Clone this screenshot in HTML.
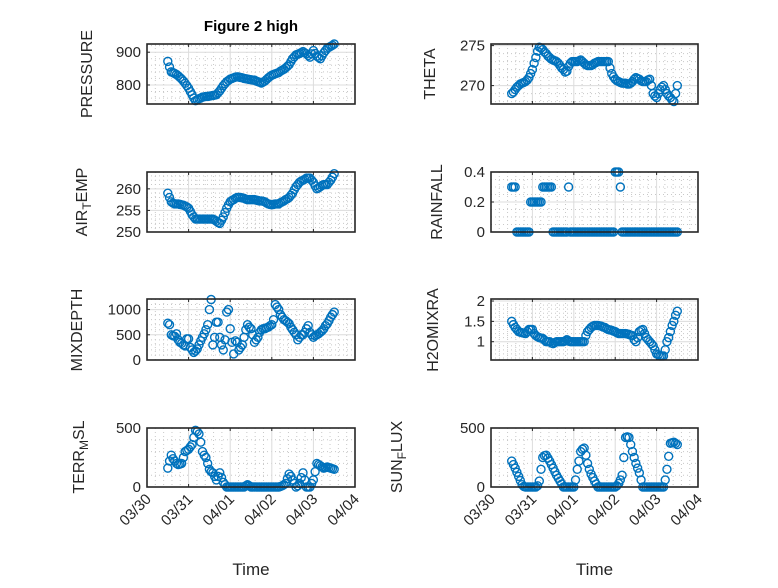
<!DOCTYPE html>
<html><head><meta charset="utf-8"><style>
body{margin:0;background:#fff}
svg text{font-family:"Liberation Sans","DejaVu Sans",sans-serif;fill:#262626}
</style></head><body>
<svg id="fig" width="778" height="583" viewBox="0 0 778 583" xmlns="http://www.w3.org/2000/svg">
<rect width="778" height="583" fill="#fff"/>
<text x="251" y="31" text-anchor="middle" font-size="15" font-weight="bold" style="fill:#000">Figure 2 high</text>
</svg>
<script>
const startHour=12;
const stepHours=1;
const xTickLabels=["03/30","03/31","04/01","04/02","04/03","04/04"];
const pressure=[872,855,840,838,835,832,828,823,818,812, 805,798,790,780,770,760,752,755,758,760, 763,764,765,765,766,767,768,769,770,776, 782,790,798,804,810,814,818,820,822,824, 825,824,823,822,820,819,818,817,816,815, 815,812,810,808,806,809,812,817,822,826, 830,832,834,836,838,842,845,848,852,857, 862,871,880,886,892,894,896,899,902,898, 895,890,885,895,905,896,888,884,880,889, 898,905,912,915,918,921,925];
const airTemp=[259,258,257,256.7,256.5,256.5,256.5,256.4,256.3,256.2, 256,255.8,255.5,254.8,254,253.5,253,253,253,253, 253,253,253,253,253,253,253,252.8,252.5,252.2, 252,252.7,253.5,254.5,255.5,256.3,257,257.3,257.5,257.8, 258,258,258,257.9,257.8,257.6,257.5,257.5,257.5,257.5, 257.5,257.4,257.3,257.2,257.2,257.1,257,256.7,256.5,256.4, 256.3,256.4,256.5,256.5,256.5,256.8,257,257.2,257.5,257.7, 258,258.5,259,259.8,260.5,261,261.5,261.8,262,262.2, 262.5,262.5,262.5,262,261.5,260.7,260,260.2,260.5,260.8, 261,261,261,261.5,262,262.7,263.5];
const theta=[269,269.2,269.5,269.8,270,270.2,270.3,270.4,270.5,270.7, 271,271.5,272,272.8,273.5,274.3,274.8,274.7,274.5,274.2, 274,273.7,273.5,273.3,273.2,273.1,273,272.8,272.5,272.2, 272,271.7,271.8,272.4,272.8,273,273,273,273,273.1, 273.2,273,272.8,272.6,272.5,272.5,272.5,272.6,272.8,272.9, 273,273,273,273,273,273,273,272.2,271.5,271.1, 270.8,270.6,270.5,270.4,270.3,270.3,270.3,270.2,270.2,270.3, 270.5,270.8,271,270.9,270.8,270.6,270.5,270.5,270.5,270.7, 270.8,270,269,268.7,268.5,269,269.5,269.8,270,269.5, 269,268.7,268.5,268.2,268,269,270];
const rainfall=[0.3,0.3,0.3,0,0,0,0,0,0,0, 0,0.2,0.2,0.2,0.2,0.2,0.2,0.2,0.3,0.3, 0.3,0.3,0.3,0.3,0,0,0,0,0,0, 0,0,0,0.3,0,0,0,0,0,0, 0,0,0,0,0,0,0,0,0,0, 0,0,0,0,0,0,0,0,0,0, 0.4,0.4,0.4,0.3,0,0,0,0,0,0, 0,0,0,0,0,0,0,0,0,0, 0,0,0,0,0,0,0,0,0,0, 0,0,0,0,0,0,0];
const mixDepth=[730,700,500,480,470,520,400,350,330,300, 280,420,420,250,200,150,180,220,300,380, 450,520,600,700,1000,1200,300,450,750,750, 450,300,200,400,950,1000,620,350,120,380, 350,200,250,300,450,600,700,650,620,500, 350,400,450,550,600,620,620,640,650,680, 700,800,1100,1050,1000,900,850,800,780,750, 720,650,600,550,500,400,450,500,500,550, 620,680,550,500,450,480,500,520,550,580, 620,680,720,780,850,900,950];
const h2oMixRa=[1.5,1.42,1.35,1.3,1.25,1.23,1.22,1.21,1.2,1.25, 1.3,1.3,1.3,1.2,1.15,1.12,1.1,1.09,1.08,1.04, 1.0,1.0,1.0,0.97,0.95,0.98,1.0,1.0,1.0,1.0, 1.0,1.02,1.05,1.02,1.0,1.0,1.0,1.0,1.0,1.0, 1.0,1.0,1.0,1.15,1.25,1.3,1.35,1.38,1.4,1.4, 1.4,1.39,1.38,1.36,1.35,1.32,1.3,1.29,1.28,1.26, 1.25,1.22,1.2,1.2,1.2,1.2,1.2,1.19,1.18,1.16, 1.15,1.05,1.0,1.1,1.25,1.28,1.3,1.2,1.1,1.05, 1.0,0.95,0.9,0.8,0.7,0.68,0.65,0.65,0.65,0.8, 1.0,1.1,1.25,1.4,1.5,1.65,1.75];
const terrMsl=[160,220,270,240,220,200,190,195,200,250, 300,310,320,340,360,420,480,470,450,380, 300,270,250,200,150,130,120,90,60,90, 120,80,40,20,0,0,0,0,0,0, 0,0,0,0,0,10,20,10,0,0, 0,0,0,0,0,0,0,0,0,0, 0,0,0,0,0,5,10,20,30,70, 110,90,60,30,0,10,30,80,120,60, 0,0,0,30,60,130,200,190,180,170, 160,165,170,165,160,155,150];
const sunFlux=[220,190,160,125,90,55,20,5,0,0, 0,0,0,0,0,10,50,150,250,265, 270,245,220,190,160,130,100,75,50,25, 0,0,0,0,0,0,0,60,150,220, 300,320,330,270,200,150,110,80,50,25, 0,0,0,0,0,0,0,0,0,0, 0,10,30,60,100,250,420,425,420,360, 300,250,200,160,120,60,0,0,0,0, 0,0,0,0,0,0,0,0,0,60, 150,260,370,375,380,370,360];

const NS='http://www.w3.org/2000/svg';
const svg=document.getElementById('fig');
function mk(tag,attrs,parent){const e=document.createElementNS(NS,tag);for(const k in attrs)e.setAttribute(k,attrs[k]);(parent||svg).appendChild(e);return e;}

const panels=[
 {name:'pressure',data:pressure,x0:147,x1:355,y0:44,y1:104,ymin:742,ymax:925,ticks:[800,900],minor:20,label:['PRESSURE'],lx:88,ly:74},
 {name:'theta',data:theta,x0:491,x1:698,y0:44,y1:104,ymin:267.7,ymax:275.2,ticks:[270,275],minor:1,label:['THETA'],lx:431,ly:74},
 {name:'air-temp',data:airTemp,x0:147,x1:355,y0:172,y1:232,ymin:250,ymax:263.9,ticks:[250,255,260],minor:1,label:['AIR','T','EMP'],lx:83,ly:202},
 {name:'rainfall',data:rainfall,x0:491,x1:698,y0:172,y1:232,ymin:0,ymax:0.4,ticks:[0,0.2,0.4],minor:0.05,label:['RAINFALL'],lx:438,ly:202,fmt:v=>v===0?'0':String(v)},
 {name:'mixdepth',data:mixDepth,x0:147,x1:355,y0:299,y1:360,ymin:0,ymax:1210,ticks:[0,500,1000],minor:100,label:['MIXDEPTH'],lx:78,ly:330},
 {name:'h2omixra',data:h2oMixRa,x0:491,x1:698,y0:299,y1:360,ymin:0.55,ymax:2.05,ticks:[1,1.5,2],minor:0.1,label:['H2OMIXRA'],lx:434,ly:330},
 {name:'terr-msl',data:terrMsl,x0:147,x1:355,y0:428,y1:487,ymin:0,ymax:500,ticks:[0,500],minor:100,label:['TERR','M','SL'],lx:80,ly:457,xt:true},
 {name:'sun-flux',data:sunFlux,x0:491,x1:698,y0:428,y1:487,ymin:0,ymax:500,ticks:[0,500],minor:100,label:['SUN','F','LUX'],lx:398,ly:457,xt:true}
];

panels.forEach(p=>{
 const g=mk('g',{});
 
 
 const xs=h=>p.x0+(h/24)/5*(p.x1-p.x0);
 const ys=v=>p.y1-(v-p.ymin)/(p.ymax-p.ymin)*(p.y1-p.y0);
 for(let k=1;k<25;k++){if(k%5===0)continue;const x=xs(k*4.8);
  const l=mk('line',{x1:x,x2:x,y1:p.y0,y2:p.y1,stroke:'#c8c8c8','stroke-width':1,'stroke-dasharray':'1,3'},g);
  }
 const st=Math.ceil(p.ymin/p.minor-1e-9);
 for(let k=st;k*p.minor<=p.ymax+1e-9;k++){const v=k*p.minor;if(p.ticks.some(t=>Math.abs(t-v)<1e-6))continue;const y=ys(v);
  const l=mk('line',{x1:p.x0,x2:p.x1,y1:y,y2:y,stroke:'#c8c8c8','stroke-width':1,'stroke-dasharray':'1,3'},g);
  }
 for(let d=1;d<5;d++){const x=xs(d*24);
  const l=mk('line',{x1:x,x2:x,y1:p.y0,y2:p.y1,stroke:'#dcdcdc','stroke-width':1},g);
  }
 p.ticks.forEach(t=>{const y=ys(t);
  const l=mk('line',{x1:p.x0,x2:p.x1,y1:y,y2:y,stroke:'#dcdcdc','stroke-width':1},g);
  
  const tk=mk('line',{x1:p.x0,x2:p.x0+3,y1:y,y2:y,stroke:'#262626','stroke-width':1},g);
  
  const tx=mk('text',{x:p.x0-6,y:y+5,'text-anchor':'end','font-size':15},g);
  
  tx.textContent=p.fmt?p.fmt(t):String(t);
 });
 for(let d=0;d<=5;d++){const x=xs(d*24);
  const tk=mk('line',{x1:x,x2:x,y1:p.y1,y2:p.y1-3,stroke:'#262626','stroke-width':1},g);
  
  const tk2=mk('line',{x1:x,x2:x,y1:p.y0,y2:p.y0+3,stroke:'#262626','stroke-width':1},g);
  
  if(p.xt){
   const tx=mk('text',{x:x+5,y:p.y1+13,'text-anchor':'end','font-size':15,transform:`rotate(-45 ${x+5} ${p.y1+13})`},g);
   
   tx.textContent=xTickLabels[d];
  }
 }
 p.data.forEach((v,i)=>{
  const c=mk('circle',{cx:xs(startHour+i*stepHours),cy:ys(v),r:4,fill:'none',stroke:'#0072BD','stroke-width':1.4},g);
  
 });
 const box=mk('rect',{x:p.x0,y:p.y0,width:p.x1-p.x0,height:p.y1-p.y0,fill:'none',stroke:'#262626','stroke-width':1.6},g);
 
 const yl=mk('text',{x:p.lx,y:p.ly,'text-anchor':'middle','font-size':16,transform:`rotate(-90 ${p.lx} ${p.ly})`},g);
 
 if(p.label.length===1){yl.textContent=p.label[0];}
 else{
  const a=mk('tspan',{},yl);a.textContent=p.label[0];
  const b=mk('tspan',{'font-size':12,dy:5},yl);b.textContent=p.label[1];
  const c=mk('tspan',{dy:-5},yl);c.textContent=p.label[2];
 }
 yl.setAttribute('dominant-baseline','middle');
 if(p.xt){
  const xl=mk('text',{x:(p.x0+p.x1)/2,y:575,'text-anchor':'middle','font-size':17},g);
  
  xl.textContent='Time';
 }
});
</script>
</body></html>
